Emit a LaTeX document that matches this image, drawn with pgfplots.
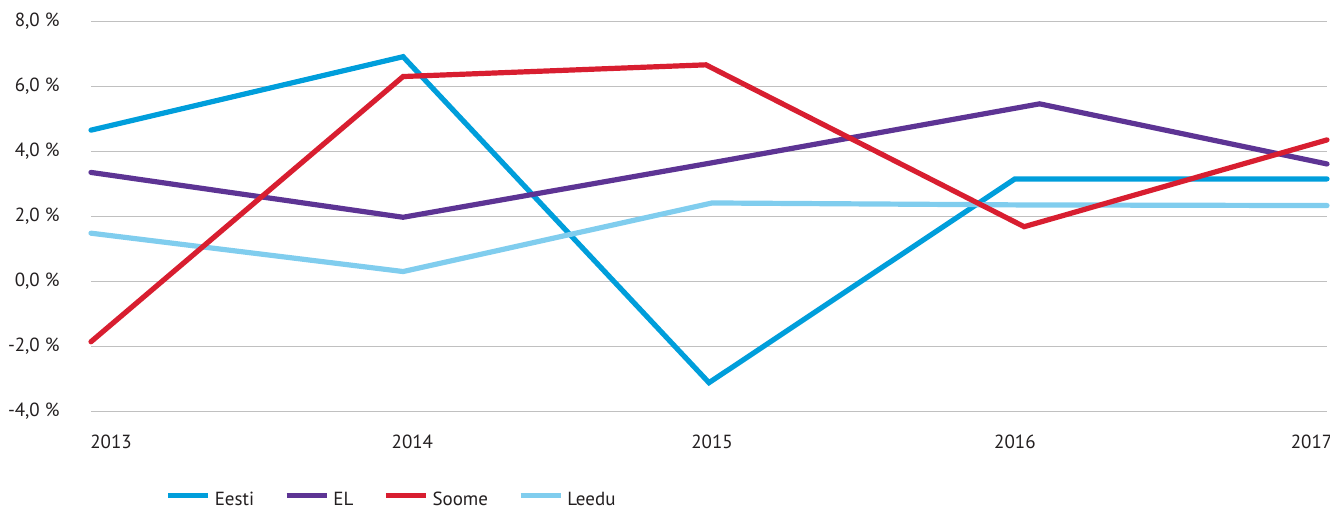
\documentclass[border=0pt]{standalone}
\usepackage{pgfplots}
\pgfplotsset{compat=1.18}
\usepackage{fontspec}
\setmainfont{PT Sans}
\definecolor{eesti}{RGB}{0,158,219}
\definecolor{el}{RGB}{93,52,148}
\definecolor{soome}{RGB}{216,30,48}
\definecolor{leedu}{RGB}{128,205,238}
\definecolor{gridc}{RGB}{192,192,192}
\definecolor{txt}{RGB}{35,31,32}
\begin{document}
\fontsize{9.5}{11}\selectfont
\begin{tikzpicture}
\path[use as bounding box] (0,0) rectangle (665pt,254.5pt);
\begin{axis}[
  at={(45.5pt,48.85pt)}, anchor=south west,
  width=618pt, height=195pt, scale only axis,
  xmin=2013, xmax=2017, ymin=-4, ymax=8,
  axis line style={draw=none},
  major tick length=0pt,
  ytick={-4,-2,0,2,4,6,8},
  yticklabels={{-4,0 \%},{-2,0 \%},{0,0 \%},{2,0 \%},{4,0 \%},{6,0 \%},{8,0 \%}},
  yticklabel style={anchor=east, inner sep=0pt, xshift=-15.5pt, text=txt},
  xtick={2013.065,2014.04,2015.01,2015.99,2016.95},
  xticklabels={2013,2014,2015,2016,2017},
  xticklabel style={anchor=north, inner sep=0pt, yshift=-11.6pt, text=txt},
  ymajorgrids, grid style={gridc, line width=0.6pt},
  clip=false,
  every axis plot/.append style={line width=2.6pt, line cap=round},
  legend columns=4,
  legend style={draw=none, fill=none, inner sep=0pt, at={(rel axis cs:0.060,-0.2275)}, anchor=west,
    font=\color{txt},
    /tikz/every even column/.append style={column sep=13pt},
    /tikz/every odd column/.append style={column sep=0pt}},
  legend image code/.code={\draw[#1, line cap=butt] (0pt,0.25em) -- (20pt,0.25em);},
]
\addplot[eesti] coordinates {(2013,4.65) (2014.01,6.91) (2015,-3.12) (2015.99,3.15) (2017,3.15)};
\addlegendentry{Eesti}
\addplot[el] coordinates {(2013,3.35) (2014.01,1.97) (2015,3.63) (2016.07,5.46) (2017,3.61)};
\addlegendentry{EL}
\addplot[leedu, forget plot] coordinates {(2013,1.48) (2014.01,0.30) (2015.01,2.41) (2016,2.35) (2017,2.33)};
\addplot[soome] coordinates {(2013,-1.86) (2014.01,6.30) (2014.99,6.66) (2016.02,1.68) (2017,4.35)};
\addlegendentry{Soome}
\addlegendimage{leedu}
\addlegendentry{Leedu}
\end{axis}
\end{tikzpicture}
\end{document}
